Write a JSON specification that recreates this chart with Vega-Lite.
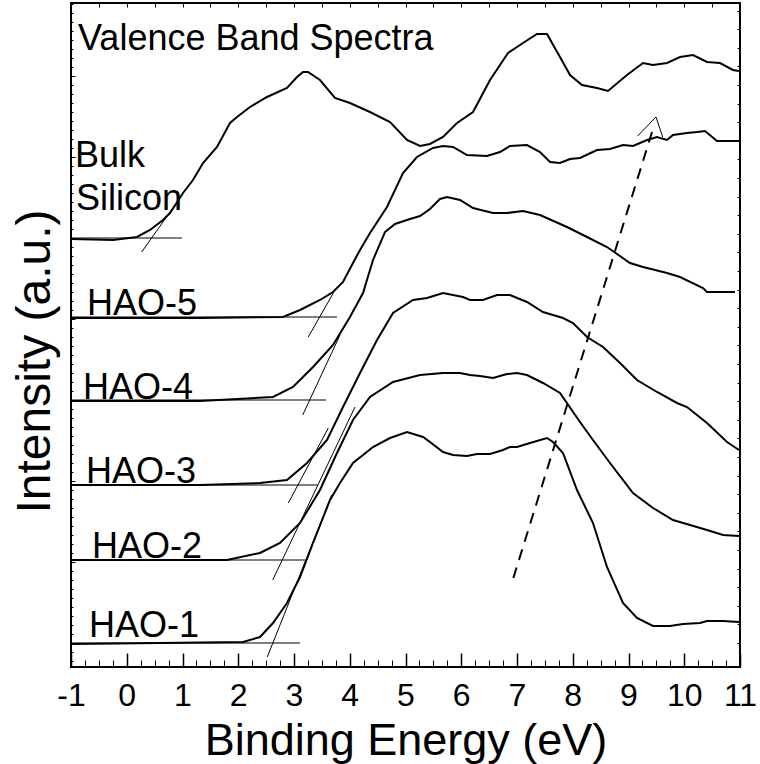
{
  "$schema": "https://vega.github.io/schema/vega-lite/v6.json",
  "width": 669,
  "height": 664,
  "autosize": {"type": "none"},
  "padding": {"left": 71, "top": 3, "right": 20, "bottom": 97},
  "background": "white",
  "config": {"view": {"stroke": "black", "strokeWidth": 2}, "axis": {"grid": false, "domain": false, "tickColor": "black"}},
  "datasets": {
    "curves": [
      {"s": "Bulk", "x": -1, "y": 428}, {"s": "Bulk", "x": -0.247, "y": 427}, {"s": "Bulk", "x": 0.184, "y": 430}, {"s": "Bulk", "x": 0.417, "y": 437}, {"s": "Bulk", "x": 0.65, "y": 447}, {"s": "Bulk", "x": 0.776, "y": 454}, {"s": "Bulk", "x": 1.009, "y": 474}, {"s": "Bulk", "x": 1.188, "y": 487}, {"s": "Bulk", "x": 1.368, "y": 504}, {"s": "Bulk", "x": 1.619, "y": 520}, {"s": "Bulk", "x": 1.852, "y": 544}, {"s": "Bulk", "x": 1.978, "y": 550}, {"s": "Bulk", "x": 2.211, "y": 560}, {"s": "Bulk", "x": 2.516, "y": 570}, {"s": "Bulk", "x": 2.874, "y": 579}, {"s": "Bulk", "x": 3.054, "y": 590}, {"s": "Bulk", "x": 3.161, "y": 595}, {"s": "Bulk", "x": 3.251, "y": 595}, {"s": "Bulk", "x": 3.466, "y": 587}, {"s": "Bulk", "x": 3.735, "y": 569}, {"s": "Bulk", "x": 4.004, "y": 564}, {"s": "Bulk", "x": 4.363, "y": 555}, {"s": "Bulk", "x": 4.722, "y": 545}, {"s": "Bulk", "x": 5.027, "y": 527}, {"s": "Bulk", "x": 5.26, "y": 521}, {"s": "Bulk", "x": 5.439, "y": 523}, {"s": "Bulk", "x": 5.673, "y": 530}, {"s": "Bulk", "x": 5.924, "y": 544}, {"s": "Bulk", "x": 6.211, "y": 555}, {"s": "Bulk", "x": 6.516, "y": 587}, {"s": "Bulk", "x": 6.839, "y": 614}, {"s": "Bulk", "x": 7.108, "y": 624}, {"s": "Bulk", "x": 7.359, "y": 633}, {"s": "Bulk", "x": 7.538, "y": 633}, {"s": "Bulk", "x": 7.771, "y": 610}, {"s": "Bulk", "x": 7.951, "y": 592}, {"s": "Bulk", "x": 8.166, "y": 582}, {"s": "Bulk", "x": 8.435, "y": 579}, {"s": "Bulk", "x": 8.632, "y": 576}, {"s": "Bulk", "x": 8.973, "y": 592}, {"s": "Bulk", "x": 9.26, "y": 604}, {"s": "Bulk", "x": 9.439, "y": 602}, {"s": "Bulk", "x": 9.691, "y": 604}, {"s": "Bulk", "x": 9.924, "y": 610}, {"s": "Bulk", "x": 10.157, "y": 612}, {"s": "Bulk", "x": 10.408, "y": 605}, {"s": "Bulk", "x": 10.641, "y": 604}, {"s": "Bulk", "x": 10.874, "y": 597}, {"s": "Bulk", "x": 10.982, "y": 596},
      {"s": "HAO-5", "x": -1, "y": 349}, {"s": "HAO-5", "x": 1.314, "y": 349}, {"s": "HAO-5", "x": 2.803, "y": 350}, {"s": "HAO-5", "x": 3.108, "y": 357}, {"s": "HAO-5", "x": 3.466, "y": 367}, {"s": "HAO-5", "x": 3.7, "y": 375}, {"s": "HAO-5", "x": 3.879, "y": 385}, {"s": "HAO-5", "x": 4.058, "y": 404}, {"s": "HAO-5", "x": 4.184, "y": 417}, {"s": "HAO-5", "x": 4.363, "y": 434}, {"s": "HAO-5", "x": 4.668, "y": 460}, {"s": "HAO-5", "x": 4.955, "y": 494}, {"s": "HAO-5", "x": 5.206, "y": 510}, {"s": "HAO-5", "x": 5.493, "y": 519}, {"s": "HAO-5", "x": 5.673, "y": 521}, {"s": "HAO-5", "x": 5.852, "y": 520}, {"s": "HAO-5", "x": 6.103, "y": 512}, {"s": "HAO-5", "x": 6.462, "y": 511}, {"s": "HAO-5", "x": 6.695, "y": 515}, {"s": "HAO-5", "x": 6.874, "y": 521}, {"s": "HAO-5", "x": 7.179, "y": 522}, {"s": "HAO-5", "x": 7.413, "y": 515}, {"s": "HAO-5", "x": 7.592, "y": 505}, {"s": "HAO-5", "x": 7.771, "y": 504}, {"s": "HAO-5", "x": 7.951, "y": 508}, {"s": "HAO-5", "x": 8.13, "y": 509}, {"s": "HAO-5", "x": 8.435, "y": 517}, {"s": "HAO-5", "x": 8.668, "y": 518}, {"s": "HAO-5", "x": 8.901, "y": 522}, {"s": "HAO-5", "x": 9.081, "y": 521}, {"s": "HAO-5", "x": 9.332, "y": 527}, {"s": "HAO-5", "x": 9.511, "y": 530}, {"s": "HAO-5", "x": 9.691, "y": 527}, {"s": "HAO-5", "x": 9.798, "y": 532}, {"s": "HAO-5", "x": 10.049, "y": 534}, {"s": "HAO-5", "x": 10.229, "y": 535}, {"s": "HAO-5", "x": 10.372, "y": 536}, {"s": "HAO-5", "x": 10.587, "y": 526}, {"s": "HAO-5", "x": 10.982, "y": 526},
      {"s": "HAO-4", "x": -1, "y": 266}, {"s": "HAO-4", "x": 1.314, "y": 266}, {"s": "HAO-4", "x": 2.623, "y": 270}, {"s": "HAO-4", "x": 2.982, "y": 280}, {"s": "HAO-4", "x": 3.341, "y": 300}, {"s": "HAO-4", "x": 3.7, "y": 322}, {"s": "HAO-4", "x": 4.004, "y": 350}, {"s": "HAO-4", "x": 4.238, "y": 374}, {"s": "HAO-4", "x": 4.417, "y": 407}, {"s": "HAO-4", "x": 4.632, "y": 435}, {"s": "HAO-4", "x": 4.812, "y": 443}, {"s": "HAO-4", "x": 5.081, "y": 448}, {"s": "HAO-4", "x": 5.26, "y": 451}, {"s": "HAO-4", "x": 5.439, "y": 458}, {"s": "HAO-4", "x": 5.619, "y": 468}, {"s": "HAO-4", "x": 5.744, "y": 470}, {"s": "HAO-4", "x": 5.978, "y": 467}, {"s": "HAO-4", "x": 6.211, "y": 459}, {"s": "HAO-4", "x": 6.57, "y": 454}, {"s": "HAO-4", "x": 6.821, "y": 454}, {"s": "HAO-4", "x": 7.108, "y": 456}, {"s": "HAO-4", "x": 7.413, "y": 452}, {"s": "HAO-4", "x": 7.897, "y": 440}, {"s": "HAO-4", "x": 8.256, "y": 430}, {"s": "HAO-4", "x": 8.614, "y": 420}, {"s": "HAO-4", "x": 9.027, "y": 404}, {"s": "HAO-4", "x": 9.26, "y": 400}, {"s": "HAO-4", "x": 9.691, "y": 394}, {"s": "HAO-4", "x": 9.924, "y": 390}, {"s": "HAO-4", "x": 10.336, "y": 379}, {"s": "HAO-4", "x": 10.408, "y": 375}, {"s": "HAO-4", "x": 10.91, "y": 375},
      {"s": "HAO-3", "x": -1, "y": 182}, {"s": "HAO-3", "x": 1.314, "y": 182}, {"s": "HAO-3", "x": 2.39, "y": 184}, {"s": "HAO-3", "x": 2.874, "y": 187}, {"s": "HAO-3", "x": 3.233, "y": 204}, {"s": "HAO-3", "x": 3.592, "y": 227}, {"s": "HAO-3", "x": 3.879, "y": 260}, {"s": "HAO-3", "x": 4.184, "y": 294}, {"s": "HAO-3", "x": 4.489, "y": 327}, {"s": "HAO-3", "x": 4.776, "y": 354}, {"s": "HAO-3", "x": 5.135, "y": 367}, {"s": "HAO-3", "x": 5.386, "y": 369}, {"s": "HAO-3", "x": 5.673, "y": 374}, {"s": "HAO-3", "x": 6.031, "y": 370}, {"s": "HAO-3", "x": 6.157, "y": 367}, {"s": "HAO-3", "x": 6.39, "y": 367}, {"s": "HAO-3", "x": 6.641, "y": 372}, {"s": "HAO-3", "x": 6.874, "y": 372}, {"s": "HAO-3", "x": 7.179, "y": 365}, {"s": "HAO-3", "x": 7.466, "y": 355}, {"s": "HAO-3", "x": 7.825, "y": 349}, {"s": "HAO-3", "x": 8.004, "y": 344}, {"s": "HAO-3", "x": 8.256, "y": 330}, {"s": "HAO-3", "x": 8.543, "y": 320}, {"s": "HAO-3", "x": 8.848, "y": 304}, {"s": "HAO-3", "x": 9.152, "y": 287}, {"s": "HAO-3", "x": 9.511, "y": 275}, {"s": "HAO-3", "x": 9.87, "y": 264}, {"s": "HAO-3", "x": 10.049, "y": 260}, {"s": "HAO-3", "x": 10.408, "y": 244}, {"s": "HAO-3", "x": 10.767, "y": 225}, {"s": "HAO-3", "x": 10.982, "y": 217},
      {"s": "HAO-2", "x": -1, "y": 107}, {"s": "HAO-2", "x": 1.314, "y": 107}, {"s": "HAO-2", "x": 1.798, "y": 107}, {"s": "HAO-2", "x": 2.39, "y": 114}, {"s": "HAO-2", "x": 2.749, "y": 124}, {"s": "HAO-2", "x": 3.108, "y": 144}, {"s": "HAO-2", "x": 3.466, "y": 177}, {"s": "HAO-2", "x": 3.771, "y": 214}, {"s": "HAO-2", "x": 4.058, "y": 247}, {"s": "HAO-2", "x": 4.363, "y": 270}, {"s": "HAO-2", "x": 4.776, "y": 285}, {"s": "HAO-2", "x": 5.26, "y": 292}, {"s": "HAO-2", "x": 5.673, "y": 294}, {"s": "HAO-2", "x": 5.978, "y": 294}, {"s": "HAO-2", "x": 6.157, "y": 292}, {"s": "HAO-2", "x": 6.336, "y": 291}, {"s": "HAO-2", "x": 6.57, "y": 289}, {"s": "HAO-2", "x": 6.821, "y": 293}, {"s": "HAO-2", "x": 7.0, "y": 294}, {"s": "HAO-2", "x": 7.179, "y": 292}, {"s": "HAO-2", "x": 7.466, "y": 284}, {"s": "HAO-2", "x": 7.771, "y": 274}, {"s": "HAO-2", "x": 8.13, "y": 245}, {"s": "HAO-2", "x": 8.363, "y": 227}, {"s": "HAO-2", "x": 8.668, "y": 204}, {"s": "HAO-2", "x": 9.081, "y": 174}, {"s": "HAO-2", "x": 9.439, "y": 159}, {"s": "HAO-2", "x": 9.798, "y": 147}, {"s": "HAO-2", "x": 10.103, "y": 142}, {"s": "HAO-2", "x": 10.408, "y": 137}, {"s": "HAO-2", "x": 10.695, "y": 132}, {"s": "HAO-2", "x": 10.982, "y": 131},
      {"s": "HAO-1", "x": -1, "y": 23}, {"s": "HAO-1", "x": 0.596, "y": 24}, {"s": "HAO-1", "x": 2.085, "y": 25}, {"s": "HAO-1", "x": 2.39, "y": 30}, {"s": "HAO-1", "x": 2.623, "y": 44}, {"s": "HAO-1", "x": 2.874, "y": 64}, {"s": "HAO-1", "x": 3.108, "y": 90}, {"s": "HAO-1", "x": 3.341, "y": 124}, {"s": "HAO-1", "x": 3.646, "y": 167}, {"s": "HAO-1", "x": 3.825, "y": 184}, {"s": "HAO-1", "x": 4.058, "y": 204}, {"s": "HAO-1", "x": 4.417, "y": 220}, {"s": "HAO-1", "x": 4.722, "y": 229}, {"s": "HAO-1", "x": 5.027, "y": 235}, {"s": "HAO-1", "x": 5.314, "y": 230}, {"s": "HAO-1", "x": 5.439, "y": 225}, {"s": "HAO-1", "x": 5.673, "y": 215}, {"s": "HAO-1", "x": 5.852, "y": 212}, {"s": "HAO-1", "x": 6.103, "y": 211}, {"s": "HAO-1", "x": 6.283, "y": 213}, {"s": "HAO-1", "x": 6.516, "y": 213}, {"s": "HAO-1", "x": 6.749, "y": 217}, {"s": "HAO-1", "x": 6.874, "y": 220}, {"s": "HAO-1", "x": 7.0, "y": 220}, {"s": "HAO-1", "x": 7.233, "y": 224}, {"s": "HAO-1", "x": 7.538, "y": 229}, {"s": "HAO-1", "x": 7.646, "y": 225}, {"s": "HAO-1", "x": 7.825, "y": 214}, {"s": "HAO-1", "x": 8.076, "y": 177}, {"s": "HAO-1", "x": 8.363, "y": 144}, {"s": "HAO-1", "x": 8.614, "y": 100}, {"s": "HAO-1", "x": 8.901, "y": 64}, {"s": "HAO-1", "x": 9.152, "y": 49}, {"s": "HAO-1", "x": 9.439, "y": 41}, {"s": "HAO-1", "x": 9.744, "y": 41}, {"s": "HAO-1", "x": 9.978, "y": 43}, {"s": "HAO-1", "x": 10.283, "y": 44}, {"s": "HAO-1", "x": 10.408, "y": 46}, {"s": "HAO-1", "x": 10.695, "y": 46}, {"s": "HAO-1", "x": 10.982, "y": 45}
    ],
    "thin": [
      {"s": "b-h", "x": -1, "y": 429}, {"s": "b-h", "x": 0.991, "y": 429},
      {"s": "b-t", "x": 0.268, "y": 415}, {"s": "b-t", "x": 0.865, "y": 462},
      {"s": "5-h", "x": -1, "y": 350}, {"s": "5-h", "x": 3.771, "y": 350},
      {"s": "5-t", "x": 3.256, "y": 330}, {"s": "5-t", "x": 3.705, "y": 374},
      {"s": "4-h", "x": -1, "y": 267}, {"s": "4-h", "x": 3.574, "y": 267},
      {"s": "4-t", "x": 3.156, "y": 252}, {"s": "4-t", "x": 3.825, "y": 332},
      {"s": "3-h", "x": -1, "y": 182}, {"s": "3-h", "x": 3.43, "y": 182},
      {"s": "3-t", "x": 2.898, "y": 164}, {"s": "3-t", "x": 3.615, "y": 239},
      {"s": "2-h", "x": -1, "y": 107}, {"s": "2-h", "x": 3.197, "y": 107},
      {"s": "2-t", "x": 2.618, "y": 87}, {"s": "2-t", "x": 4.094, "y": 260},
      {"s": "1-h", "x": -1, "y": 24}, {"s": "1-h", "x": 3.108, "y": 24},
      {"s": "1-t", "x": 2.521, "y": 10}, {"s": "1-t", "x": 3.676, "y": 172},
      {"s": "caret", "x": 9.165, "y": 531}, {"s": "caret", "x": 9.493, "y": 550}, {"s": "caret", "x": 9.614, "y": 530}
    ],
    "dash": [
      {"x": 6.934, "y": 89}, {"x": 9.422, "y": 535}
    ],
    "labels": [
      {"t": "Valence Band Spectra", "x": -0.874, "y": 617},
      {"t": "Bulk", "x": -0.928, "y": 500},
      {"t": "Silicon", "x": -0.91, "y": 457},
      {"t": "HAO-5", "x": -0.713, "y": 352},
      {"t": "HAO-4", "x": -0.785, "y": 268},
      {"t": "HAO-3", "x": -0.731, "y": 184},
      {"t": "HAO-2", "x": -0.624, "y": 109},
      {"t": "HAO-1", "x": -0.677, "y": 30}
    ]
  },
  "resolve": {"axis": {"x": "independent", "y": "independent"}},
  "layer": [
    {
      "data": {"name": "curves"},
      "mark": {"type": "line", "color": "black", "strokeWidth": 2, "clip": true},
      "encoding": {
        "x": {"field": "x", "type": "quantitative", "scale": {"domain": [-1, 11], "nice": false, "zero": false},
          "axis": {"orient": "bottom", "values": [-1,0,1,2,3,4,5,6,7,8,9,10,11], "labels": false, "title": null, "tickSize": -14, "tickWidth": 1.5}},
        "y": {"field": "y", "type": "quantitative", "scale": {"domain": [0, 664], "nice": false, "zero": false},
          "axis": {"orient": "left", "values": [24,105,186,267,348,429,510,591], "labels": false, "title": null, "tickSize": -4, "tickWidth": 1}},
        "detail": {"field": "s"}
      }
    },
    {
      "data": {"name": "thin"},
      "mark": {"type": "line", "color": "black", "strokeWidth": 1, "clip": true},
      "encoding": {
        "x": {"field": "x", "type": "quantitative", "scale": {"domain": [-1, 11], "nice": false, "zero": false},
          "axis": {"orient": "bottom", "values": [-0.75,-0.5,-0.25,0.25,0.5,0.75,1.25,1.5,1.75,2.25,2.5,2.75,3.25,3.5,3.75,4.25,4.5,4.75,5.25,5.5,5.75,6.25,6.5,6.75,7.25,7.5,7.75,8.25,8.5,8.75,9.25,9.5,9.75,10.25,10.5,10.75], "labels": false, "title": null, "tickSize": -7, "tickWidth": 1}},
        "y": {"field": "y", "type": "quantitative", "scale": {"domain": [0, 664], "nice": false, "zero": false},
          "axis": {"orient": "left", "values": [6,15,33,42,51,60,69,78,87,96,114,123,132,141,150,159,168,177,195,204,213,222,231,240,249,258,276,285,294,303,312,321,330,339,357,366,375,384,393,402,411,420,438,447,456,465,474,483,492,501,519,528,537,546,555,564,573,582,600,609,618,627,636,645,654,663], "labels": false, "title": null, "tickSize": -2, "tickWidth": 1}},
        "detail": {"field": "s"},
        "order": {"field": "x", "type": "quantitative"}
      }
    },
    {
      "data": {"name": "dash"},
      "mark": {"type": "line", "color": "black", "strokeWidth": 2, "strokeDash": [11, 8]},
      "encoding": {
        "x": {"field": "x", "type": "quantitative", "scale": {"domain": [-1, 11], "nice": false, "zero": false},
          "axis": {"orient": "top", "values": [-0.5,0,0.5,1,1.5,2,2.5,3,3.5,4,4.5,5,5.5,6,6.5,7,7.5,8,8.5,9,9.5,10,10.5], "labels": false, "title": null, "tickSize": -4, "tickWidth": 1}},
        "y": {"field": "y", "type": "quantitative", "scale": {"domain": [0, 664], "nice": false, "zero": false},
          "axis": {"orient": "right", "values": [24,42.6,61.2,79.8,98.4,117,135.6,154.2,172.8,191.4,210,228.6,247.2,265.8,284.4,303,321.6,340.2,358.8,377.4,396,414.6,433.2,451.8,470.4,489,507.6,526.2,544.8,563.4,582,600.6,619.2,637.8,656.4], "labels": false, "title": null, "tickSize": -3, "tickWidth": 1}}
      }
    },
    {
      "data": {"name": "labels"},
      "mark": {"type": "text", "align": "left", "baseline": "alphabetic", "font": "Liberation Sans", "fontSize": 36, "color": "black"},
      "encoding": {
        "x": {"field": "x", "type": "quantitative", "scale": {"domain": [-1, 11], "nice": false, "zero": false},
          "axis": {"orient": "bottom", "values": [-1,0,1,2,3,4,5,6,7,8,9,10,11], "ticks": false, "labelFlush": false, "labelOverlap": false, "labelBound": false,
            "labelExpr": "replace(datum.label, '\u2212', '-')",
            "labelFont": "Liberation Sans", "labelFontSize": 32, "labelColor": "black", "labelPadding": 13,
            "title": "Binding Energy (eV)", "titleFont": "Liberation Sans", "titleFontSize": 45, "titleFontWeight": "normal", "titleColor": "black", "titleY": 87, "titleBaseline": "alphabetic"}},
        "y": {"field": "y", "type": "quantitative", "scale": {"domain": [0, 664], "nice": false, "zero": false},
          "axis": {"orient": "left", "ticks": false, "labels": false, "title": "Intensity (a.u.)", "titleFont": "Liberation Sans", "titleFontSize": 48, "titleFontWeight": "normal", "titleColor": "black", "titleX": -36, "titleY": 358, "titleAngle": 270, "titleAlign": "center", "titleBaseline": "middle"}},
        "text": {"field": "t"}
      }
    }
  ]
}
